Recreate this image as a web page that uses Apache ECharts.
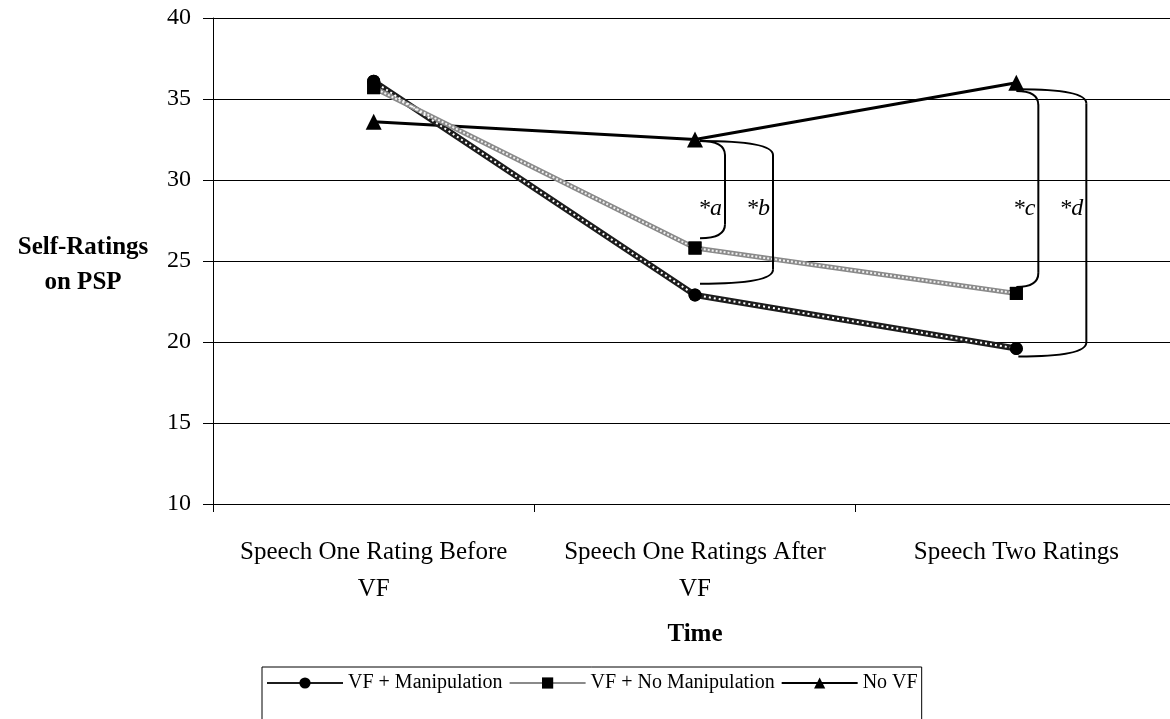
<!DOCTYPE html>
<html>
<head>
<meta charset="utf-8">
<script src="https://cdn.jsdelivr.net/npm/echarts@6/dist/echarts.min.js"></script>
<style>
  html, body { margin: 0; padding: 0; background: #fff; }
  #chart { width: 1170px; height: 719px; }
</style>
</head>
<body>
<div id="chart"></div>
<script>
// chart data
const categories = ['Speech One Rating Before\nVF', 'Speech One Ratings After\nVF', 'Speech Two Ratings'];
const vfManipulation = [36.1, 22.9, 19.6];
const vfNoManipulation = [35.7, 25.8, 23.0];
const noVF = [33.6, 32.5, 36.0];
const yTicks = [10, 15, 20, 25, 30, 35, 40];

// significance brackets: category, top value, bottom value, label
const brackets = [
  { cat: 1, top: 32.4, bottom: 26.4, label: '*a', dx: 30, x0: 5 },
  { cat: 1, top: 32.4, bottom: 23.6, label: '*b', dx: 78, x0: 5 },
  { cat: 2, top: 35.5, bottom: 23.4, label: '*c', dx: 22, x0: 0 },
  { cat: 2, top: 35.6, bottom: 19.1, label: '*d', dx: 70, x0: 2 }
];
const bracketLabelValue = 28.2;

const FONT = '"Liberation Serif", "Times New Roman", serif';

document.addEventListener('DOMContentLoaded', function () {
  const chart = echarts.init(document.getElementById('chart'), null, { renderer: 'canvas' });

  const option = {
    animation: false,
    backgroundColor: '#fff',
    textStyle: { fontFamily: FONT, color: '#000' },
    grid: { left: 213, top: 18, width: 964, height: 486, outerBoundsMode: 'none', containLabel: false },
    legend: {
      data: ['VF + Manipulation', 'VF + No Manipulation', 'No VF'],
      left: 262,
      top: 667,
      orient: 'horizontal',
      borderColor: '#000',
      borderWidth: 1,
      borderRadius: 0,
      padding: [6, 4, 30, 4],
      itemWidth: 76,
      itemHeight: 14,
      itemGap: 6,
      textStyle: { fontFamily: FONT, fontSize: 20, color: '#000' }
    },
    xAxis: {
      type: 'category',
      data: categories,
      boundaryGap: true,
      axisLine: { lineStyle: { color: '#000', width: 1 } },
      axisTick: { show: true, length: 8, lineStyle: { color: '#000' } },
      axisLabel: { fontFamily: FONT, fontSize: 25, color: '#000', lineHeight: 37, margin: 30, interval: 0 },
      name: 'Time',
      nameLocation: 'middle',
      nameGap: 118,
      nameTextStyle: { fontFamily: FONT, fontSize: 25, fontWeight: 'bold', color: '#000' }
    },
    yAxis: {
      type: 'value',
      min: yTicks[0],
      max: yTicks[yTicks.length - 1],
      interval: 5,
      axisLine: { show: true, lineStyle: { color: '#000', width: 1 } },
      axisTick: { show: true, length: 10, lineStyle: { color: '#000' } },
      axisLabel: { fontFamily: FONT, fontSize: 24, color: '#000', margin: 22 },
      splitLine: { show: true, lineStyle: { color: '#000', width: 1 } }
    },
    series: [
      {
        name: 'VF + Manipulation',
        type: 'line',
        data: vfManipulation,
        symbol: 'circle',
        symbolSize: 13,
        itemStyle: { color: '#000' },
        lineStyle: { color: '#1c1c1c', width: 6 },
        z: 3
      },
      {
        name: 'VF + No Manipulation',
        type: 'line',
        data: vfNoManipulation,
        symbol: 'rect',
        symbolSize: 13,
        itemStyle: { color: '#000' },
        lineStyle: { color: '#8a8a8a', width: 5 },
        z: 3
      },
      {
        name: 'No VF',
        type: 'line',
        data: noVF,
        symbol: 'triangle',
        symbolSize: 16,
        itemStyle: { color: '#000' },
        lineStyle: { color: '#000', width: 3 },
        z: 2
      },
      // pattern overlays so the two VF lines look hatched
      {
        name: 'm1',
        type: 'line',
        data: vfManipulation,
        symbol: 'circle',
        symbolSize: 13,
        itemStyle: { color: '#000' },
        lineStyle: { color: '#fff', width: 2, type: [2, 3] },
        z: 4
      },
      {
        name: 'm2',
        type: 'line',
        data: vfNoManipulation,
        symbol: 'rect',
        symbolSize: 13,
        itemStyle: { color: '#000' },
        lineStyle: { color: '#f0f0f0', width: 2, type: [2, 2] },
        z: 4
      }
    ]
  };
  chart.setOption(option);

  // brackets and labels placed from data values
  const graphics = [];
  const r = 14;
  const stroke = { fill: null, stroke: '#000', lineWidth: 2 };
  brackets.forEach(function (b) {
    const pTop = chart.convertToPixel({ seriesIndex: 0 }, [b.cat, b.top]);
    const pBot = chart.convertToPixel({ seriesIndex: 0 }, [b.cat, b.bottom]);
    const pLab = chart.convertToPixel({ seriesIndex: 0 }, [b.cat, bracketLabelValue]);
    const x0 = pTop[0] + b.x0;
    const xr = pTop[0] + b.dx;
    const yT = pTop[1], yB = pBot[1];
    graphics.push({
      type: 'bezierCurve',
      shape: { x1: x0, y1: yT, cpx1: xr, cpy1: yT, x2: xr, y2: yT + r },
      style: stroke,
      z: 10
    });
    graphics.push({
      type: 'line',
      shape: { x1: xr, y1: yT + r, x2: xr, y2: yB - r },
      style: stroke,
      z: 10
    });
    graphics.push({
      type: 'bezierCurve',
      shape: { x1: xr, y1: yB - r, cpx1: xr, cpy1: yB, x2: x0, y2: yB },
      style: stroke,
      z: 10
    });
    graphics.push({
      type: 'text',
      x: xr - 3,
      y: pLab[1],
      style: {
        text: b.label,
        fontFamily: FONT,
        fontSize: 24,
        fontStyle: 'italic',
        fill: '#000',
        align: 'right',
        verticalAlign: 'middle'
      },
      z: 10
    });
  });
  graphics.push({
    type: 'text',
    x: 83,
    y: 265,
    style: {
      text: 'Self-Ratings\non PSP',
      fontFamily: FONT,
      fontSize: 25,
      fontWeight: 'bold',
      fill: '#000',
      align: 'center',
      verticalAlign: 'middle',
      lineHeight: 35
    }
  });
  chart.setOption({ graphic: graphics });
});
</script>
</body>
</html>
